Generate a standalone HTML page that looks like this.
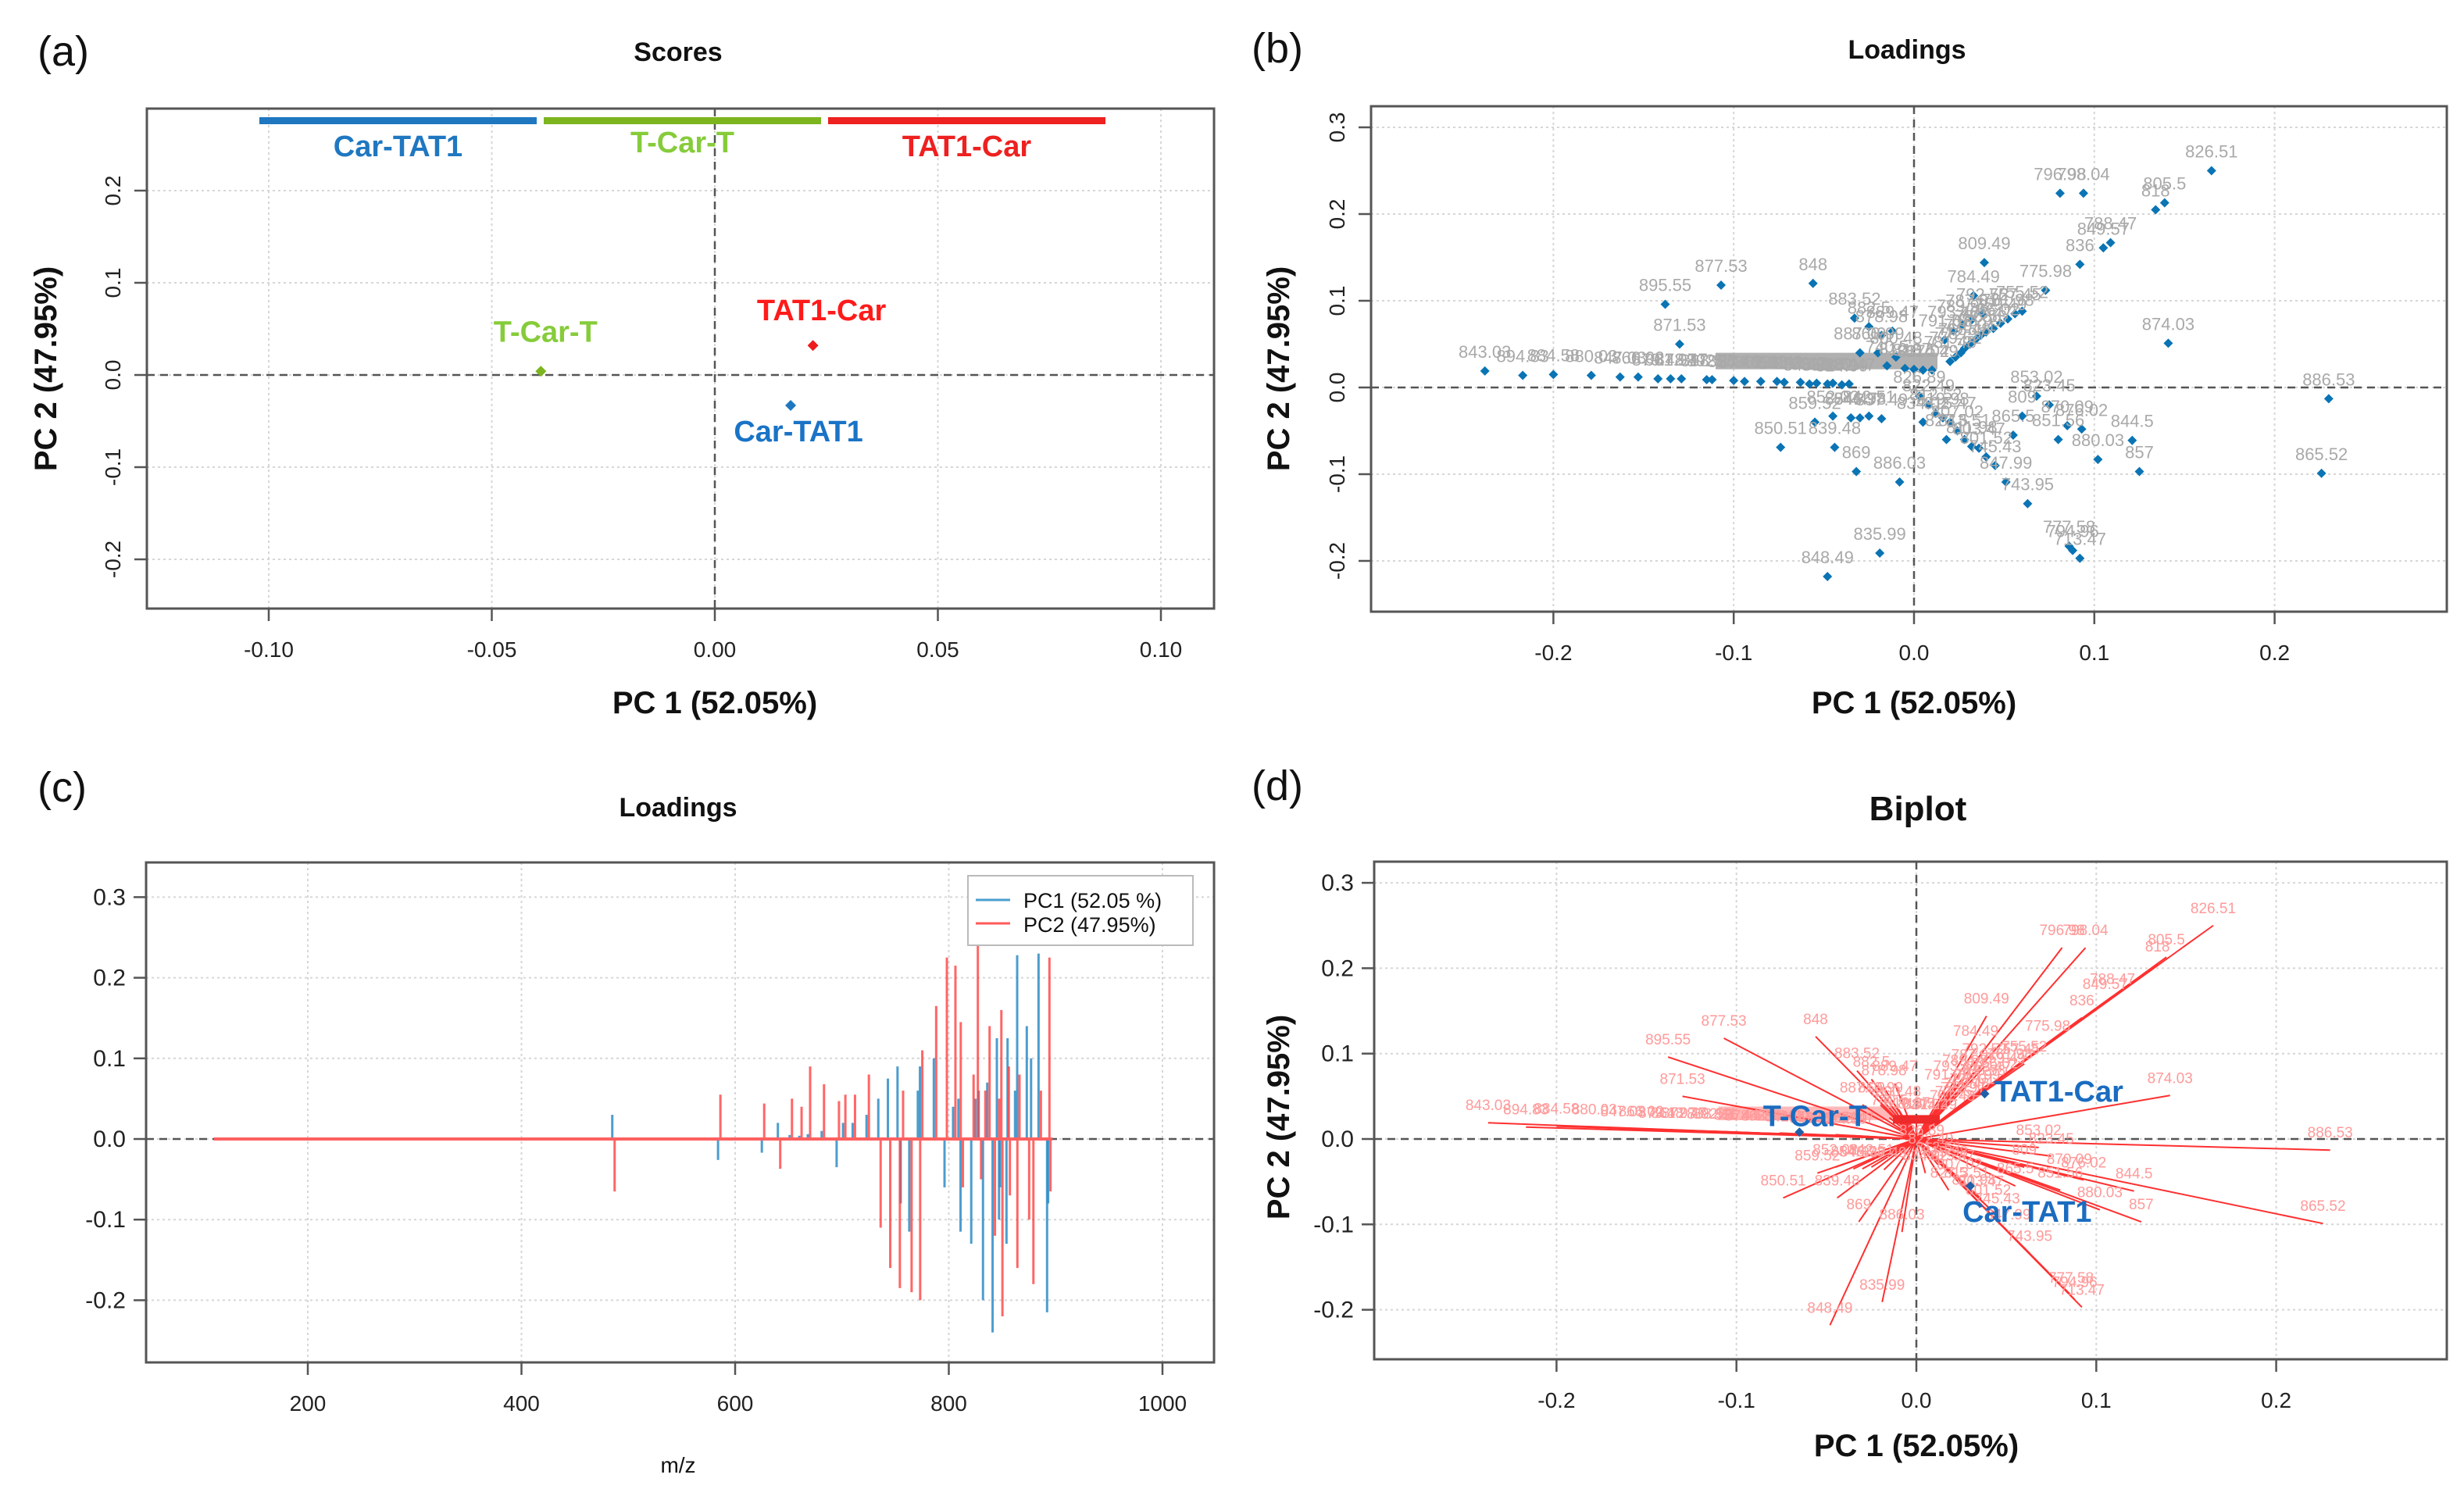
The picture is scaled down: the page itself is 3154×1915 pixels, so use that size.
<!DOCTYPE html>
<html><head><meta charset="utf-8">
<style>
html,body{margin:0;padding:0;background:#fff;}
svg{display:block;font-family:"Liberation Sans",sans-serif;}
</style></head>
<body>
<svg id="fig" width="3154" height="1915" viewBox="0 0 3154 1915" xmlns="http://www.w3.org/2000/svg"></svg>
<script>
// ---- Scores data (panel a) ----
const scoreNames = ["T-Car-T","TAT1-Car","Car-TAT1"];
const scorePC1 = [-0.039, 0.022, 0.017];
const scorePC2 = [0.004, 0.032, -0.033];
// ---- Biplot scores (panel d) ----
const biScorePC1 = [-0.065, 0.038, 0.030];
const biScorePC2 = [0.008, 0.053, -0.055];
// ---- Loadings (panels b, d) ----
const loadX = [0.165,0.081,0.094,0.139,0.134,0.109,0.105,0.092,0.039,0.033,0.073,-0.107,-0.056,-0.138,-0.130,0.141,0.230,0.226,0.125,0.121,0.102,-0.048,-0.019,-0.008,-0.032,-0.074,-0.044,0.051,0.063,0.092,0.086,0.088,
 -0.238,-0.217,-0.200,-0.179,-0.163,-0.153,-0.142,-0.135,-0.129,-0.115,-0.112,-0.100,-0.094,-0.085,-0.076,-0.072,-0.063,-0.054,-0.045,-0.036,-0.040,-0.048,-0.058,
 0.020,0.023,0.026,0.028,0.031,0.034,0.037,0.040,0.044,0.048,0.052,0.056,0.060,0.017,0.022,0.027,0.032,0.038,
 0.003,0.008,0.012,0.016,0.020,0.024,0.028,0.032,0.036,0.040,0.045,0.055,0.060,0.068,0.075,0.085,0.093,0.080,0.018,0.005,
 -0.055,-0.045,-0.035,-0.030,-0.025,-0.018,-0.020,-0.015,-0.030,-0.025,-0.018,-0.033,-0.012,-0.010,0.005,0.010,-0.005,0.000];
const loadY = [0.250,0.224,0.224,0.213,0.205,0.167,0.161,0.142,0.144,0.106,0.112,0.118,0.120,0.096,0.050,0.051,-0.013,-0.099,-0.097,-0.061,-0.083,-0.218,-0.191,-0.109,-0.097,-0.069,-0.069,-0.109,-0.134,-0.197,-0.183,-0.188,
 0.019,0.014,0.015,0.014,0.012,0.012,0.010,0.010,0.010,0.009,0.009,0.008,0.007,0.007,0.007,0.006,0.006,0.005,0.005,0.004,0.003,0.004,0.004,
 0.030,0.035,0.040,0.045,0.050,0.055,0.060,0.064,0.068,0.074,0.079,0.085,0.088,0.055,0.065,0.072,0.078,0.085,
 -0.010,-0.020,-0.030,-0.035,-0.040,-0.050,-0.060,-0.068,-0.070,-0.080,-0.090,-0.055,-0.033,-0.010,-0.020,-0.044,-0.048,-0.060,-0.060,-0.040,
 -0.040,-0.033,-0.035,-0.035,-0.033,-0.036,0.040,0.025,0.040,0.070,0.060,0.080,0.065,0.035,0.020,0.020,0.022,0.021];
const loadLab = ["826.51","796.98","798.04","805.5","818","788.47","849.57","836","809.49","784.49","775.98","877.53","848","895.55","871.53","874.03","886.53","865.52","857","844.5","880.03","848.49","835.99","886.03","869","850.51","839.48","847.99","743.95","713.47","777.58","794.96",
 "843.03","894.83","884.58","880.03","847.03","866.02","879.48","861.97","872.47","838.52","892.11","856.44","874.52","862.98","858.49","841.02","853.47","832.98","828.51","820.47","824.99","830.52","845.51",
 "781.48","779.52","772.97","768.48","770.01","783.99","786.53","763.47","766.02","759.49","761.98","757.45","755.52","791.02","793.47","789.98","787.01","792.52",
 "826.89","822.49","812.52","819.98","815.47","807.02","813.51","811.98","803.47","801.52","745.43","865.5","809","853.02","823.45","870.09","876.02","851.56","827.5","834.02",
 "859.52","852.02","854.47","846.98","842.51","837.49","860.99","740.5","887.09","882.5","878.98","883.52","889.47","800.48","817.02","814.49","810.97","816.5"];
// ---- Loadings vs m/z (panel c) ----
const mzVals  = [485,584,625,640,651,660,668,681,695,701,710,723,734,743,752,755,763,771,773,786,796,804,809,811,821,825,828,832,836,841,845,847,848,854,855,862,864,873,877,884,892,893];
const pc1Vals = [0.030,-0.026,-0.017,0.020,0.005,0.004,0.006,0.010,-0.035,0.020,0.020,0.030,0.050,0.075,0.090,-0.080,-0.115,0.060,0.090,0.100,-0.060,0.040,0.050,-0.115,-0.130,0.050,0.060,-0.200,0.070,-0.240,0.125,-0.100,-0.060,-0.130,0.125,0.060,0.228,0.140,0.100,0.230,-0.215,-0.080];
const pc2Vals = [-0.065,0.055,0.044,-0.037,0.050,0.040,0.090,0.068,0.047,0.055,0.055,0.080,-0.110,-0.160,-0.185,0.060,-0.190,-0.200,0.110,0.165,0.225,0.215,0.145,-0.060,0.080,0.240,-0.050,0.060,0.140,-0.120,0.050,0.160,-0.220,0.090,-0.070,-0.160,0.080,-0.100,-0.180,0.060,0.225,-0.065];
const mzLineStart = 112, mzLineEnd = 897;

const svg = document.getElementById('fig');
const NS = 'http://www.w3.org/2000/svg';
function mk(tag, attrs, parent){
  const e = document.createElementNS(NS, tag);
  for (const k in attrs) e.setAttribute(k, attrs[k]);
  (parent||svg).appendChild(e);
  return e;
}
function txt(str, attrs, parent){ const t = mk('text', attrs, parent); t.textContent = str; return t; }

function panel(o){
  const g = mk('g', {});
  
  
  const sx = v => o.x0 + v*o.kx, sy = v => o.y0 - v*o.ky;
  o.xt.forEach(v=>{ const l=mk('line',{x1:sx(v),x2:sx(v),y1:o.T,y2:o.B,stroke:'#d6d6d6','stroke-width':2,'stroke-dasharray':'3,4'},g);
      });
  o.yt.forEach(v=>{ const l=mk('line',{x1:o.L,x2:o.R,y1:sy(v),y2:sy(v),stroke:'#d6d6d6','stroke-width':2,'stroke-dasharray':'3,4'},g);
      });
  if (o.zeroX){ const l=mk('line',{x1:sx(0),x2:sx(0),y1:o.T,y2:o.B,stroke:'#555','stroke-width':2.5,'stroke-dasharray':'10,7'},g);
      }
  const zl=mk('line',{x1:o.L,x2:o.R,y1:sy(0),y2:sy(0),stroke:'#555','stroke-width':2.5,'stroke-dasharray':'10,7'},g);
   
  const fr = mk('rect',{x:o.L,y:o.T,width:o.R-o.L,height:o.B-o.T,fill:'none',stroke:'#555','stroke-width':3},g);
   
  o.xt.forEach((v,i)=>{ mk('line',{x1:sx(v),x2:sx(v),y1:o.B,y2:o.B+16,stroke:'#555','stroke-width':2.5},g);
    const t=txt(o.xl[i],{x:sx(v),y:o.B+62,'font-size':28,'text-anchor':'middle',fill:'#222'},g);
      });
  o.yt.forEach((v,i)=>{ mk('line',{x1:o.L,x2:o.L-16,y1:sy(v),y2:sy(v),stroke:'#555','stroke-width':2.5},g);
    let t;
    if (o.rotY) t=txt(o.yl[i],{x:0,y:0,'font-size':28,'text-anchor':'middle',fill:'#222',transform:`translate(${o.L-34},${sy(v)}) rotate(-90)`},g);
    else t=txt(o.yl[i],{x:o.L-26,y:sy(v)+10,'font-size':30,'text-anchor':'end',fill:'#222'},g);
      });
  const tt=txt(o.title,{x:o.tx,y:o.ty,'font-size':o.tsize,'font-weight':'bold','text-anchor':'middle',fill:'#111'},g);
   
  const lt=txt(o.letter,{x:o.lx,y:o.ly,'font-size':54,fill:'#111'},g);
   
  if (o.xlab){ const t=txt(o.xlab,{x:o.xlx,y:o.xly,'font-size':o.xlsize||40,'font-weight':o.xlw||'bold','text-anchor':'middle',fill:'#111'},g);
      }
  if (o.ylab){ const t=txt(o.ylab,{x:0,y:0,'font-size':40,'font-weight':'bold','text-anchor':'middle',fill:'#111',transform:`translate(${o.ylx},${o.yly}) rotate(-90)`},g);
      }
  return {g,sx,sy};
}
function diamond(g,x,y,r,fill){ return mk('path',{d:`M${x} ${y-r}L${x+r} ${y}L${x} ${y+r}L${x-r} ${y}Z`,fill},g); }

// ===== Panel (a) =====
{
  const p = panel({name:'scores-panel',L:188,R:1554,T:139,B:779,x0:915,kx:5710,y0:480,ky:1180,
    xt:[-0.10,-0.05,0,0.05,0.10],xl:['-0.10','-0.05','0.00','0.05','0.10'],
    yt:[-0.2,-0.1,0,0.1,0.2],yl:['-0.2','-0.1','0.0','0.1','0.2'],rotY:true,zeroX:true,
    title:'Scores',tx:868,ty:78,tsize:34,letter:'(a)',lx:48,ly:84,
    xlab:'PC 1 (52.05%)',xlx:915,xly:913,ylab:'PC 2 (47.95%)',ylx:72,yly:472});
  const cols=['#7cb51e','#ee1c1c','#1f77c0'], tcols=['#86cc3a','#ff1a1a','#1a73c6'];
  const bars=[[332,687,'#1f77c0','Car-TAT1',200],[696,1051,'#7cb51e','T-Car-T',195],[1060,1415,'#ee2020','TAT1-Car',200]];
  bars.forEach(b=>{ const r=mk('rect',{x:b[0],y:150,width:b[1]-b[0],height:9,fill:b[2]},p.g);
     
    const t=txt(b[3],{x:(b[0]+b[1])/2,y:b[4],'font-size':38,'font-weight':'bold','text-anchor':'middle',fill:b[3]==='T-Car-T'?'#86cc3a':b[2]},p.g);
      });
  const offs=[[6,-38],[11,-32],[10,46]];
  scoreNames.forEach((n,i)=>{ const x=p.sx(scorePC1[i]), y=p.sy(scorePC2[i]);
    const d=diamond(p.g,x,y,7,cols[i]);  
    const t=txt(n,{x:x+offs[i][0],y:y+offs[i][1],'font-size':38,'font-weight':'bold','text-anchor':'middle',fill:tcols[i]},p.g);
      });
}
// ===== Panel (b) =====
{
  const p = panel({name:'loadings-scatter-panel',L:1755,R:3132,T:136,B:783,x0:2450,kx:2308,y0:496,ky:1110,
    xt:[-0.2,-0.1,0,0.1,0.2],xl:['-0.2','-0.1','0.0','0.1','0.2'],
    yt:[-0.2,-0.1,0,0.1,0.2,0.3],yl:['-0.2','-0.1','0.0','0.1','0.2','0.3'],rotY:true,zeroX:true,
    title:'Loadings',tx:2441,ty:75,tsize:34,letter:'(b)',lx:1602,ly:80,
    xlab:'PC 1 (52.05%)',xlx:2450,xly:913,ylab:'PC 2 (47.95%)',ylx:1650,yly:472});
  const band=mk('rect',{x:p.sx(-0.11),y:p.sy(0.040),width:p.sx(0.013)-p.sx(-0.11),height:p.sy(0.021)-p.sy(0.040),fill:'#b0b0b0'},p.g);
   
  loadX.forEach((v,i)=>{ const x=p.sx(v), y=p.sy(loadY[i]);
    const d=diamond(p.g,x,y,6,'#0a74b4');   });
  loadX.forEach((v,i)=>{ const x=p.sx(v), y=p.sy(loadY[i]);
    const t=txt(loadLab[i],{x:x,y:y-17,'font-size':22,'text-anchor':'middle',fill:'#a9a9a9'},p.g);
      });
}
// ===== Panel (c) =====
{
  const p = panel({name:'loadings-mz-panel',L:187,R:1554,T:1104,B:1744,x0:394-200*1.3675,kx:1.3675,y0:1458,ky:1032,
    xt:[200,400,600,800,1000],xl:['200','400','600','800','1000'],
    yt:[-0.2,-0.1,0,0.1,0.2,0.3],yl:['-0.2','-0.1','0.0','0.1','0.2','0.3'],rotY:false,zeroX:false,
    title:'Loadings',tx:868,ty:1045,tsize:34,letter:'(c)',lx:48,ly:1026,
    xlab:'m/z',xlx:868,xly:1885,xlsize:28,xlw:'normal'});
  mzVals.forEach((m,i)=>{ const l=mk('line',{x1:p.sx(m),x2:p.sx(m),y1:p.sy(0),y2:p.sy(pc1Vals[i]),stroke:'#2f8cc6','stroke-width':3,opacity:0.85},p.g);
      });
  mzVals.forEach((m,i)=>{ const l=mk('line',{x1:p.sx(m)+3,x2:p.sx(m)+3,y1:p.sy(0),y2:p.sy(pc2Vals[i]),stroke:'#ff4040','stroke-width':3,opacity:0.8},p.g);
      });
  const base=mk('line',{x1:p.sx(mzLineStart),x2:p.sx(mzLineEnd),y1:p.sy(0),y2:p.sy(0),stroke:'#ff6060','stroke-width':4},p.g);
   
  const lg=mk('g',{},p.g);  
  mk('rect',{x:1239,y:1121,width:288,height:89,fill:'#fff',stroke:'#bbb','stroke-width':2},lg);
  mk('line',{x1:1249,x2:1293,y1:1152,y2:1152,stroke:'#4a9fd0','stroke-width':3},lg);
  mk('line',{x1:1249,x2:1293,y1:1182,y2:1182,stroke:'#ff5a5a','stroke-width':3},lg);
  const e1=txt('PC1 (52.05 %)',{x:1310,y:1162,'font-size':27,fill:'#111'},lg);
   
  const e2=txt('PC2 (47.95%)',{x:1310,y:1193,'font-size':27,fill:'#111'},lg);
   
}
// ===== Panel (d) =====
{
  const p = panel({name:'biplot-panel',L:1759,R:3132,T:1103,B:1740,x0:2453,kx:2303,y0:1458,ky:1093,
    xt:[-0.2,-0.1,0,0.1,0.2],xl:['-0.2','-0.1','0.0','0.1','0.2'],
    yt:[-0.2,-0.1,0,0.1,0.2,0.3],yl:['-0.2','-0.1','0.0','0.1','0.2','0.3'],rotY:false,zeroX:true,
    title:'Biplot',tx:2455,ty:1050,tsize:44,letter:'(d)',lx:1602,ly:1024,
    xlab:'PC 1 (52.05%)',xlx:2453,xly:1864,ylab:'PC 2 (47.95%)',ylx:1650,yly:1430});
  const band=mk('rect',{x:p.sx(-0.11),y:p.sy(0.038),width:p.sx(-0.01)-p.sx(-0.11),height:p.sy(0.022)-p.sy(0.038),fill:'#ff9a9a',opacity:0.7},p.g);
   
  loadX.forEach((v,i)=>{ const l=mk('line',{x1:p.sx(0),y1:p.sy(0),x2:p.sx(v),y2:p.sy(loadY[i]),stroke:'#ff3030','stroke-width':2},p.g);
      });
  const blk=mk('rect',{x:p.sx(-0.013),y:p.sy(0.028),width:p.sx(0.013)-p.sx(-0.013),height:11,fill:'#ee2a2a'},p.g);
   
  loadX.forEach((v,i)=>{ const t=txt(loadLab[i],{x:p.sx(v),y:p.sy(loadY[i])-16,'font-size':19,'text-anchor':'middle',fill:'#ff9a9a'},p.g);
      });
  const offs=[[20,-8,'middle'],[12,10,'start'],[-10,46,'start']];
  scoreNames.forEach((n,i)=>{ const x=p.sx(biScorePC1[i]), y=p.sy(biScorePC2[i]);
    const d=diamond(p.g,x,y,6,'#1f5fa8');  
    const t=txt(n,{x:x+offs[i][0],y:y+offs[i][1],'font-size':38,'font-weight':'bold','text-anchor':offs[i][2],fill:'#1a6cc0'},p.g);
      });
}
</script>
</body></html>
